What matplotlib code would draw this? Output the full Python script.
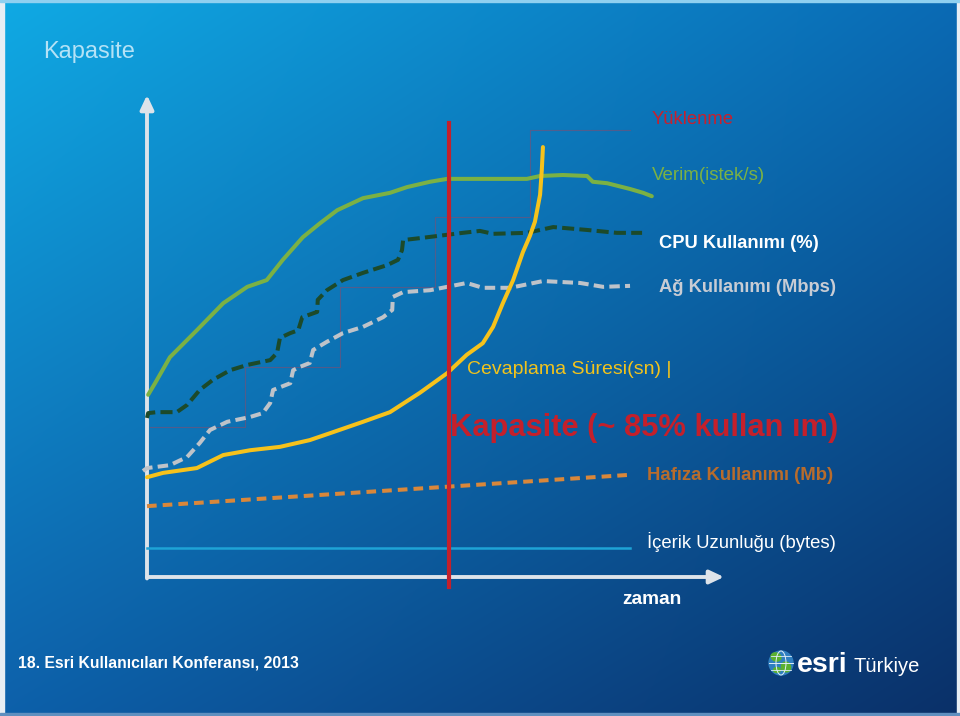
import numpy as np
import matplotlib
matplotlib.use("Agg")
import matplotlib.pyplot as plt
from matplotlib.patches import Circle, Ellipse, Rectangle

plt.rcParams['font.family'] = ['Liberation Sans', 'DejaVu Sans']

# ---------------- data (time 0-100, level 0-100) ----------------
verim_t = [0.2, 1.4, 4.0, 8.7, 13.3, 17.5, 20.9, 23.7, 27.2, 30.2, 33.2, 37.7, 42.4, 45.4,
           49.4, 52.4, 66.3, 68.6, 72.6, 76.8, 77.8, 80.3, 84.3, 86.6, 88.1]
verim_v = [37.8, 40.2, 45.6, 51.2, 56.8, 60.2, 61.6, 65.8, 70.5, 73.4, 76.1, 78.6, 79.7, 80.9,
           82.0, 82.6, 82.6, 83.2, 83.4, 83.2, 82.0, 81.7, 80.5, 79.7, 79.0]

cpu_t = [0.0, 0.2, 1.7, 5.2, 7.0, 9.2, 11.5, 14.5, 17.5, 21.5, 22.7, 23.2, 25.0, 26.4, 27.1,
         29.7, 29.8, 31.4, 34.2, 37.7, 41.9, 43.8, 44.5, 44.7, 47.6, 52.4, 55.1, 58.1, 60.4,
         66.3, 70.9, 76.8, 82.0, 86.4]
cpu_v = [33.0, 34.0, 34.2, 34.2, 35.7, 38.8, 40.9, 42.9, 44.0, 45.0, 46.5, 49.6, 50.6, 51.2, 53.9,
         55.0, 57.5, 59.5, 61.6, 63.1, 64.7, 65.8, 67.8, 69.9, 70.3, 71.0, 71.4, 71.8, 71.2,
         71.4, 72.6, 72.0, 71.4, 71.4]

ag_t = [-0.7, 0.0, 4.0, 7.0, 9.2, 11.0, 14.0, 18.0, 20.2, 21.5, 22.0, 25.0, 25.5, 26.7, 28.4,
        29.0, 31.4, 34.2, 37.7, 41.2, 42.8, 42.9, 44.7, 49.4, 52.4, 55.8, 58.6, 63.4, 69.1,
        75.6, 79.6, 84.3]
ag_v = [22.0, 22.6, 23.2, 24.9, 27.8, 30.5, 32.2, 33.2, 34.0, 36.1, 38.8, 40.2, 42.9, 43.6, 44.4,
        47.1, 48.8, 50.6, 51.9, 53.9, 55.4, 58.1, 59.1, 59.5, 60.2, 61.0, 60.0, 60.0, 61.4,
        61.0, 60.2, 60.4]

cevap_t = [0.0, 2.8, 8.7, 13.3, 18.0, 23.2, 28.4, 32.1, 37.7, 42.4, 47.6, 52.4, 55.8, 58.6,
           60.4, 62.1, 63.9, 65.6, 66.8, 67.7, 68.6, 68.9, 69.1]
cevap_v = [20.7, 21.6, 22.6, 25.3, 26.3, 27.0, 28.4, 29.9, 32.2, 34.2, 38.2, 42.3, 46.1, 48.5,
           51.9, 56.8, 61.6, 67.4, 70.7, 73.7, 79.3, 84.4, 89.2]

hafiza_t = [0.0, 49.4, 84.3]
hafiza_v = [14.7, 18.5, 21.2]

icerik_t = [0.0, 84.3]
icerik_v = [6.0, 6.0]

kapasite_t = 52.7
kapasite_range = [-2.1, 94.2]

labels = ["Yüklenme", "Verim(istek/s)", "CPU Kullanımı (%)", "Ağ Kullanımı (Mbps)",
          "Cevaplama Süresi(sn) |", "Kapasite (~ 85% kullan ım)", "Hafıza Kullanımı (Mb)",
          "İçerik Uzunluğu (bytes)"]
title = "Kapasite"
xlabel = "zaman"
footer = "18. Esri Kullanıcıları Konferansı, 2013"

# ---------------- figure ----------------
W, H = 960, 716
fig = plt.figure(figsize=(W / 100, H / 100), dpi=100)

bg = fig.add_axes([0, 0, 1, 1])
bg.set_xlim(0, W)
bg.set_ylim(H, 0)
bg.axis('off')

TL = np.array([16, 170, 228]) / 255
TR = np.array([10, 106, 180]) / 255
BL = np.array([13, 96, 170]) / 255
BR = np.array([10, 48, 104]) / 255
u = np.linspace(0, 1, W)[None, :, None]
v = np.linspace(0, 1, H)[:, None, None]
img = (1 - u) * (1 - v) * TL + u * (1 - v) * TR + (1 - u) * v * BL + u * v * BR
bg.imshow(img, extent=(0, W, H, 0), aspect='auto', zorder=0, interpolation='bilinear')

# slide borders
bg.add_patch(Rectangle((0, 0), 4, H, color='#e8eef4', zorder=1))
bg.add_patch(Rectangle((W - 3, 0), 3, H, color='#e8eef4', zorder=1))
bg.add_patch(Rectangle((0, H - 3), W, 3, color='#5f8fbf', zorder=1))
bg.add_patch(Rectangle((0, 0), W, 1.5, color='#8fd0f0', zorder=1))

# faint staircase outline
stair_x = [150, 245, 245, 340, 340, 435, 435, 530, 530, 630]
stair_y = [427, 427, 367, 367, 287, 287, 217, 217, 130, 130]
bg.plot(stair_x, stair_y, color='#8a4a6a', lw=0.8, alpha=0.55, zorder=2)

# ---------------- chart axes ----------------
ax = fig.add_axes([147 / W, (H - 577) / H, 573 / W, 482 / H])
ax.set_xlim(0, 100)
ax.set_ylim(0, 100)
ax.axis('off')
ax.patch.set_alpha(0)

axis_col = '#dde3ea'
ax.annotate('', xy=(100.7, 0), xytext=(0, 0), annotation_clip=False,
            arrowprops=dict(arrowstyle='-|>,head_length=0.85,head_width=0.4', color=axis_col,
                            lw=2.8, shrinkA=0, shrinkB=0), zorder=3)
ax.annotate('', xy=(0, 100), xytext=(0, -0.3), annotation_clip=False,
            arrowprops=dict(arrowstyle='-|>,head_length=0.85,head_width=0.4', color=axis_col,
                            lw=2.8, shrinkA=0, shrinkB=0), zorder=3)

LW = 2.9
ax.plot(icerik_t, icerik_v, color='#1ea3d6', lw=1.8, clip_on=False, zorder=4)
ax.plot(hafiza_t, hafiza_v, color='#d9873a', lw=LW, ls=(0, (2.4, 1.5)),
        dash_capstyle='butt', clip_on=False, zorder=4)
ax.plot(verim_t, verim_v, color='#7bb144', lw=LW, solid_joinstyle='round',
        solid_capstyle='round', clip_on=False, zorder=4)
ax.plot(ag_t, ag_v, color='#bfc3c9', lw=LW, ls=(0, (2.6, 1.3)),
        dash_capstyle='butt', clip_on=False, zorder=4)
ax.plot(cpu_t, cpu_v, color='#1c4a2a', lw=LW, ls=(0, (3.0, 1.3)),
        dash_capstyle='butt', clip_on=False, zorder=5)
ax.plot(cevap_t, cevap_v, color='#f6c21b', lw=LW, solid_joinstyle='round',
        solid_capstyle='round', clip_on=False, zorder=6)
ax.plot([kapasite_t, kapasite_t], kapasite_range, color='#c4202b', lw=3.0,
        clip_on=False, zorder=7)

# ---------------- texts ----------------
def t(x, y, s, va='center', **kw):
    bg.text(x, y, s, va=va, ha='left', zorder=8, **kw)

t(43, 52, title, fontsize=17, color='#b4e2f6')
t(652, 120, labels[0], fontsize=13.3, color='#c8202d')
t(652, 175, labels[1], fontsize=13.5, color='#7bb144')
t(659, 243, labels[2], fontsize=13.2, color='white', fontweight='bold')
t(659, 287, labels[3], fontsize=13.2, color='#c8ccd4', fontweight='bold')
t(467, 369, labels[4], fontsize=14, color='#f2c31c')
t(450, 428, labels[5], fontsize=22.2, color='#c4202b', fontweight='bold')
t(647, 476, labels[6], fontsize=13.3, color='#b86c2c', fontweight='bold')
t(647, 542, labels[7], fontsize=13.3, color='white')
t(622, 600, xlabel, fontsize=13.8, color='white', fontweight='bold')
t(18, 663, footer, fontsize=11.3, color='white', fontweight='bold')

# esri logo
bg.add_patch(Circle((781, 663), 12, color='#2f7fc0', zorder=8))
for (cx, cy, w, h, ang) in [(776, 657, 10, 8, 20), (786, 667, 9, 10, -30), (777, 670, 7, 5, 0)]:
    bg.add_patch(Ellipse((cx, cy), w, h, angle=ang, color='#5bb030', zorder=9))
bg.add_patch(Ellipse((781, 663), 10, 24, fill=False, ec='#e0eef8', lw=0.7, zorder=10))
bg.plot([769, 793], [663, 663], color='#e0eef8', lw=0.7, zorder=10)
bg.plot([771, 791], [656, 656], color='#e0eef8', lw=0.6, zorder=10)
bg.plot([771, 791], [670, 670], color='#e0eef8', lw=0.6, zorder=10)
t(797, 672, "esri", va='baseline', fontsize=20.5, color='white', fontweight='bold')
t(853, 672, "Türkiye", va='baseline', fontsize=14.5, color='white')

fig.savefig("out.png", dpi=100)
